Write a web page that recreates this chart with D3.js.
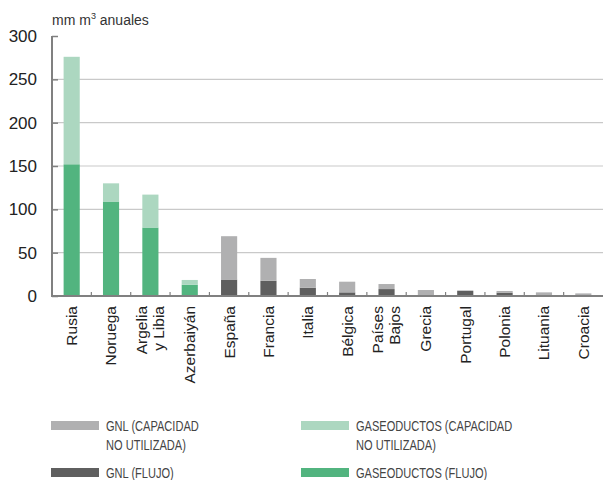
<!DOCTYPE html>
<html>
<head>
<meta charset="utf-8">
<script src="https://cdn.jsdelivr.net/npm/d3@7"></script>
<style>
  body { margin: 0; background: #fff; }
  svg { font-family: "Liberation Sans", Arial, sans-serif; }
</style>
</head>
<body>
<div id="chart"></div>
<script>
// data (mm m3 / year)
const paises = ["Rusia", "Noruega", "Argelia\ny Libia", "Azerbaiyán", "España", "Francia", "Italia",
  "Bélgica", "Países\nBajos", "Grecia", "Portugal", "Polonia", "Lituania", "Croacia"];
const gasFlujo     = [152, 109, 79, 13, 0, 0, 0, 0, 0, 0, 0, 0, 0, 0];
const gnlFlujo     = [0, 0, 0, 0, 19, 17.5, 9.6, 4.2, 8, 0, 5.8, 3.9, 0, 0];
const gasNoUtil    = [124, 21, 38, 5.5, 0, 0, 0, 0, 0, 0, 0, 0, 0, 0];
const gnlNoUtil    = [0, 0, 0, 0, 50, 26.5, 10, 12.3, 5.8, 6.9, 0.7, 1.9, 4.2, 3];
const yTicks = [0, 50, 100, 150, 200, 250, 300];

const serieKeys = ["gasFlujo", "gnlFlujo", "gasNoUtil", "gnlNoUtil"];
const colores = {
  gnlNoUtil: "#b0b0b1",
  gnlFlujo: "#5f5f5f",
  gasNoUtil: "#acd7c0",
  gasFlujo: "#52b47f"
};
const legendItems = [
  { key: "gnlNoUtil", lines: ["GNL (CAPACIDAD", "NO UTILIZADA)"], col: 0, row: 0 },
  { key: "gasNoUtil", lines: ["GASEODUCTOS (CAPACIDAD", "NO UTILIZADA)"], col: 1, row: 0 },
  { key: "gnlFlujo", lines: ["GNL (FLUJO)"], col: 0, row: 1 },
  { key: "gasFlujo", lines: ["GASEODUCTOS (FLUJO)"], col: 1, row: 1 }
];

const W = 603, H = 480;
const margin = { top: 36, right: 0, bottom: 184, left: 52 };
const width = W - margin.left - margin.right;
const height = H - margin.top - margin.bottom;

const svg = d3.select("#chart").append("svg")
  .attr("width", W).attr("height", H);
const g = svg.append("g")
  .attr("transform", "translate(" + margin.left + "," + margin.top + ")");

const rows = paises.map((p, i) => ({
  pais: p,
  gasFlujo: gasFlujo[i], gnlFlujo: gnlFlujo[i],
  gasNoUtil: gasNoUtil[i], gnlNoUtil: gnlNoUtil[i]
}));

const x = d3.scaleBand().domain(paises).range([0, width]);
const y = d3.scaleLinear().domain([0, 300]).range([height, 0]);
const barW = x.bandwidth() * 0.41;

// grid lines
g.selectAll(".grid").data(yTicks.filter(d => d > 0 && d < 300))
  .join("line")
  .attr("x1", 0).attr("x2", width)
  .attr("y1", d => y(d)).attr("y2", d => y(d))
  .attr("stroke", "#c9c9c9").attr("stroke-width", 1.2);

// stacked bars
const stacked = d3.stack().keys(serieKeys)(rows);
g.selectAll(".serie").data(stacked)
  .join("g")
  .attr("fill", d => colores[d.key])
  .selectAll("rect").data(d => d)
  .join("rect")
  .attr("x", d => x(d.data.pais) + (x.bandwidth() - barW) / 2)
  .attr("width", barW)
  .attr("y", d => y(d[1]))
  .attr("height", d => y(d[0]) - y(d[1]));

// y axis
const yAxis = g.append("g")
  .call(d3.axisLeft(y).tickValues(yTicks).tickSize(-6).tickPadding(15));
yAxis.select(".domain").attr("stroke", "#808080").attr("stroke-width", 2)
  .attr("d", "M0," + (height + 1) + "V0");
yAxis.selectAll(".tick line").attr("stroke", "#808080").attr("stroke-width", 1.5);
yAxis.selectAll(".tick text")
  .attr("font-size", 17).attr("fill", "#222")
  .attr("font-family", "'Liberation Sans', Arial, sans-serif");

// x axis: small ticks between categories
g.append("line")
  .attr("x1", 0).attr("x2", width)
  .attr("y1", height).attr("y2", height)
  .attr("stroke", "#808080").attr("stroke-width", 2);
g.selectAll(".xtick").data(paises.slice(1))
  .join("line")
  .attr("x1", d => x(d)).attr("x2", d => x(d))
  .attr("y1", height - 4).attr("y2", height)
  .attr("stroke", "#808080").attr("stroke-width", 1.2);

// category labels, rotated
const lab = g.selectAll(".xlab").data(paises)
  .join("text")
  .attr("transform", d => "translate(" + (x(d) + x.bandwidth() / 2) + "," + (height + 10) + ") rotate(-90)")
  .attr("text-anchor", "end")
  .attr("font-size", 15.5)
  .attr("fill", "#222");
lab.each(function(d) {
  const lines = d.split("\n");
  const el = d3.select(this);
  lines.forEach((t, i) => {
    el.append("tspan")
      .attr("x", 0)
      .attr("y", (i - (lines.length - 1) / 2) * 17)
      .attr("dy", "0.35em")
      .text(t);
  });
});

// unit label
const unit = svg.append("text")
  .attr("x", 52).attr("y", 25)
  .attr("font-size", 14).attr("fill", "#333");
unit.append("tspan").text("mm m");
unit.append("tspan").attr("font-size", 9).attr("dy", -6).text("3");
unit.append("tspan").attr("dy", 6).text(" anuales");

// legend (condensed type, squeezed horizontally)
const legend = svg.append("g").attr("class", "legend");
const colX = [51, 301], rowY = [421, 468];
legendItems.forEach(it => {
  const gx = colX[it.col], gy = rowY[it.row];
  legend.append("rect")
    .attr("x", gx).attr("y", gy)
    .attr("width", 48).attr("height", 9)
    .attr("fill", colores[it.key]);
  const t = legend.append("text")
    .attr("transform", "translate(" + (gx + 55) + "," + (gy + 10) + ") scale(0.79,1)")
    .attr("font-size", 14).attr("fill", "#444");
  it.lines.forEach((l, i) => {
    t.append("tspan")
      .attr("x", 0)
      .attr("y", i * 19)
      .text(l);
  });
});
</script>
</body>
</html>
